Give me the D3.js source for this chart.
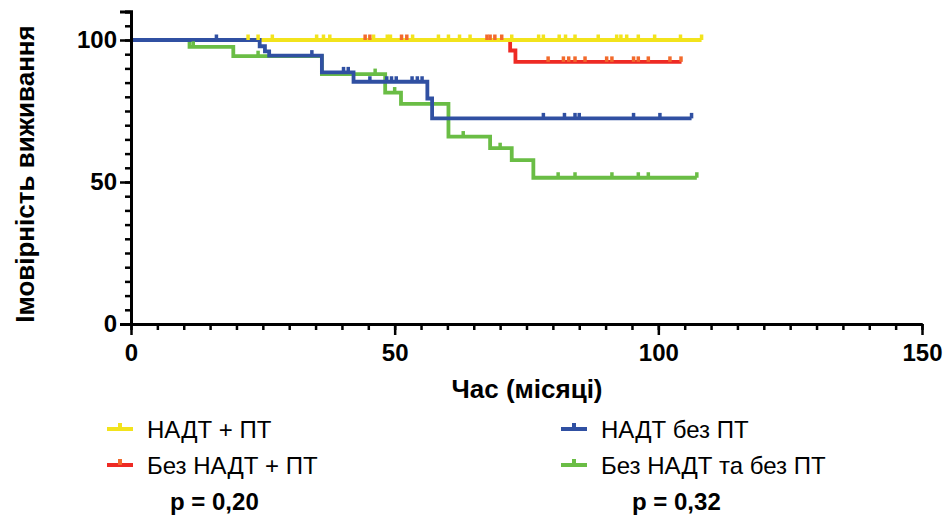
<!DOCTYPE html>
<html>
<head>
<meta charset="utf-8">
<style>
body { margin: 0; background: #fff; }
text { font-family: "Liberation Sans", Arial, sans-serif; }
</style>
</head>
<body>
<svg width="944" height="519"></svg>
<script src="https://d3js.org/d3.v7.min.js"></script>
<script>
// Kaplan-Meier curves (months, % surviving)
var groupNames = ["НАДТ + ПТ", "Без НАДТ + ПТ", "НАДТ без ПТ", "Без НАДТ та без ПТ"];

var yellowTimes = [0, 108.2];
var yellowSurv  = [100, 100];
var yellowCens  = [22.2, 24.1, 26.8, 35.2, 36.5, 37.7, 46, 48.6, 49.2, 53.4, 58.3, 60.2, 62.3, 64.3,
                   72.2, 77.3, 78.2, 81.2, 82.4, 84.2, 88.6, 92.1, 92.9, 94, 96.2, 99.3, 104.2, 108.2];

var redTimes = [0, 71.9, 72.9, 104.4];
var redSurv  = [100, 96.3, 92.3, 92.3];
var redCens  = [44.4, 45.3, 51.3, 52.3, 67.5, 68.1, 69, 70.3,
                79.1, 82, 83, 84.2, 86.1, 90.2, 91.2, 95.3, 96.2, 98.1, 102.2, 104.3];

var blueTimes = [0, 24.4, 25.4, 26.2, 36.2, 42.2, 56.2, 57.1, 106.3];
var blueSurv  = [100, 97.8, 96, 94.5, 88.6, 85.3, 79.4, 72.4, 72.4];
var blueCens  = [16.2, 34.3, 40.3, 41.2, 45.3, 48.5, 49.4, 50.3, 53.3, 54.3, 55.2,
                 78.2, 82.2, 84.2, 85, 95.3, 100.3, 106.3];

var greenTimes = [0, 11.1, 19.4, 36.2, 48.2, 51.2, 60.2, 68.1, 72.2, 76.3, 107.3];
var greenSurv  = [100, 97.6, 94.3, 88, 81.5, 77.5, 66, 61.9, 57.7, 51.5, 51.5];
var greenCens  = [11.8, 24.1, 46.3, 50, 63, 70, 81, 84.2, 91.2, 96.2, 98.1, 107.3];

var pValues = ["p = 0,20", "p = 0,32"];
var xTicks = [0, 50, 100, 150];
var yTicks = [0, 50, 100];

var series = [
  {name: groupNames[0], t: yellowTimes, s: yellowSurv, c: yellowCens, color: "#f2e31c", cens: "#f2e31c"},
  {name: groupNames[1], t: redTimes,    s: redSurv,    c: redCens,    color: "#ee2a24", cens: "#f26a2c"},
  {name: groupNames[2], t: blueTimes,   s: blueSurv,   c: blueCens,   color: "#3050a2", cens: "#3050a2"},
  {name: groupNames[3], t: greenTimes,  s: greenSurv,  c: greenCens,  color: "#6abd45", cens: "#6abd45"}
];

var svg = d3.select("svg");

var x = d3.scaleLinear().domain([0, 150]).range([131, 922]);
var y = d3.scaleLinear().domain([0, 100]).range([324, 40]);

// survival value at time tt (step function)
function survAt(d, tt) {
  var i = d3.bisectRight(d.t, tt) - 1;
  return d.s[Math.max(0, i)];
}

var line = d3.line()
    .curve(d3.curveStepAfter)
    .x(function(p) { return x(p[0]); })
    .y(function(p) { return y(p[1]); });

// drawing order: red, yellow, green, blue (blue ends up on top)
var order = [1, 0, 3, 2];
var curves = svg.append("g").attr("class", "curves");
order.forEach(function(k) {
  var d = series[k];
  curves.append("path")
      .datum(d3.zip(d.t, d.s))
      .attr("d", line)
      .attr("fill", "none")
      .attr("stroke", d.color)
      .attr("stroke-width", 3.8);
});
order.forEach(function(k) {
  var d = series[k];
  curves.append("g").selectAll("line")
    .data(d.c)
    .enter().append("line")
      .attr("x1", function(c) { return x(c); })
      .attr("x2", function(c) { return x(c); })
      .attr("y1", function(c) { return y(survAt(d, c)); })
      .attr("y2", function(c) { return y(survAt(d, c)) - 5.5; })
      .attr("stroke", d.cens)
      .attr("stroke-width", 3.5);
});

// axes
var yAxisScale = d3.scaleLinear().domain([0, 110]).range([y(0), y(110)]);

var gy = svg.append("g").attr("transform", "translate(131,0)");
gy.call(d3.axisLeft(yAxisScale).tickValues(d3.range(0, 111, 5)).tickSize(6).tickFormat(""));
gy.append("g").call(d3.axisLeft(yAxisScale).tickValues(yTicks).tickSize(11).tickPadding(3));
gy.selectAll(".domain").attr("stroke-width", 3);
gy.selectAll(".tick line").attr("stroke-width", 2.5);
gy.selectAll(".tick text")
    .attr("font-size", 24).attr("font-weight", "bold").attr("fill", "#000")
    .style("font-family", "'Liberation Sans', Arial, sans-serif");

var gx = svg.append("g").attr("transform", "translate(0,324)");
gx.call(d3.axisBottom(x).tickValues(d3.range(0, 151, 5)).tickSize(6).tickFormat("").tickSizeOuter(0));
gx.append("g").call(d3.axisBottom(x).tickValues(xTicks).tickSize(11).tickPadding(9).tickSizeOuter(0));
gx.selectAll(".domain").attr("stroke-width", 3);
gx.selectAll(".tick line").attr("stroke-width", 2.5);
gx.selectAll(".tick text")
    .attr("font-size", 24).attr("font-weight", "bold").attr("fill", "#000")
    .style("font-family", "'Liberation Sans', Arial, sans-serif");

// axis titles
svg.append("text")
    .attr("transform", "translate(34,174) rotate(-90)")
    .attr("text-anchor", "middle")
    .attr("font-size", 26)
    .attr("font-weight", "bold")
    .text("Імовірність виживання");

svg.append("text")
    .attr("x", 527)
    .attr("y", 398)
    .attr("text-anchor", "middle")
    .attr("font-size", 26)
    .attr("font-weight", "bold")
    .text("Час (місяці)");

// legend
var legendPos = [[107, 429], [107, 465], [561, 429], [561, 465]];
var legend = svg.append("g").selectAll("g")
  .data(series)
  .enter().append("g")
    .attr("transform", function(d, i) { return "translate(" + legendPos[i][0] + "," + legendPos[i][1] + ")"; });
legend.append("line")
    .attr("x1", 0).attr("x2", 26).attr("y1", 0).attr("y2", 0)
    .attr("stroke", function(d) { return d.color; })
    .attr("stroke-width", 4);
legend.append("line")
    .attr("x1", 13).attr("x2", 13).attr("y1", 0).attr("y2", -6)
    .attr("stroke", function(d) { return d.cens; })
    .attr("stroke-width", 4);
legend.append("text")
    .attr("x", 40)
    .attr("y", 9)
    .attr("font-size", 24)
    .text(function(d) { return d.name; });

svg.append("g").selectAll("text")
  .data(pValues)
  .enter().append("text")
    .attr("x", function(d, i) { return i == 0 ? 170 : 632; })
    .attr("y", 510)
    .attr("font-size", 24)
    .attr("font-weight", "bold")
    .text(function(d) { return d; });
</script>
</body>
</html>
